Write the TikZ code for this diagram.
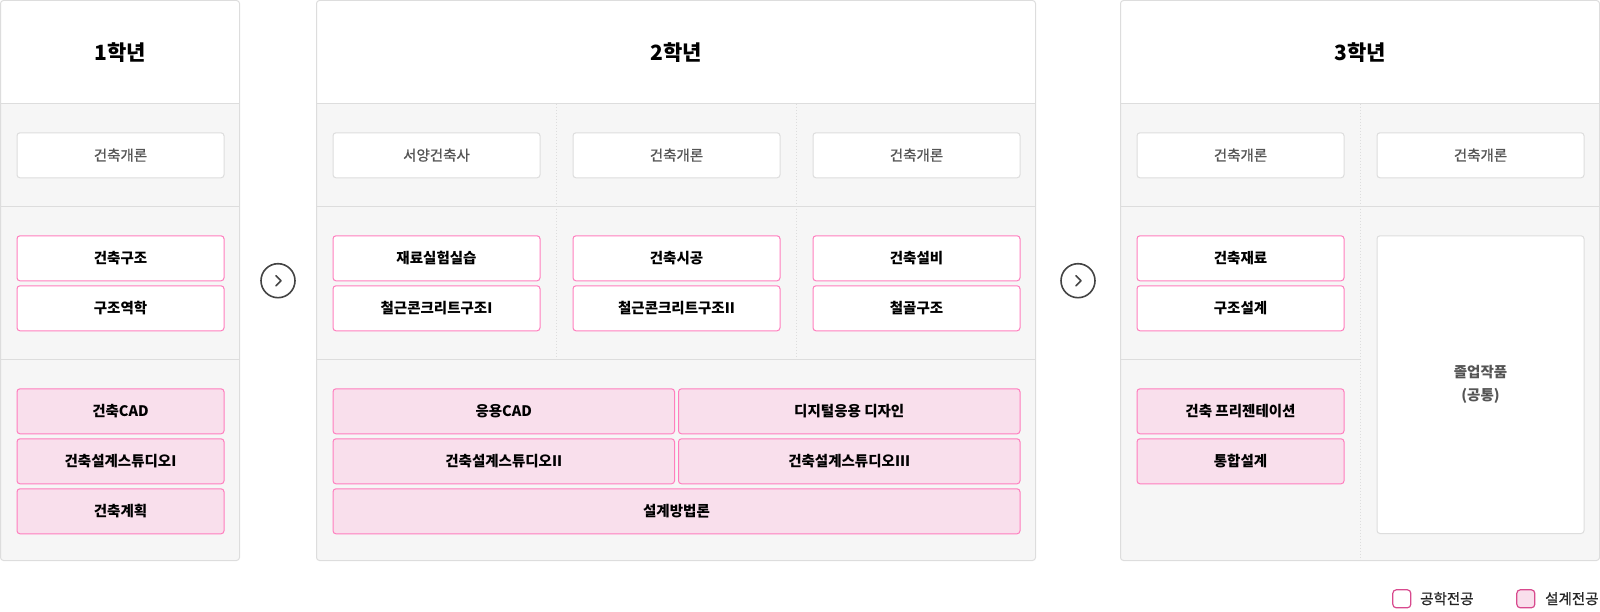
\documentclass[tikz,border=0pt]{standalone}
\usepackage{fontspec}
\setmainfont{Noto Sans CJK KR}
\newfontfamily\medfont[UprightFeatures={FakeBold=0.9}]{Noto Sans CJK KR}
\definecolor{pinkline}{HTML}{FF7EBE}
\definecolor{pinkfill}{HTML}{F9DFEC}
\definecolor{bggray}{HTML}{F6F6F6}
\definecolor{lineg}{HTML}{DDDDDD}
\definecolor{txtgray}{HTML}{555555}
\definecolor{legline}{HTML}{D84A8E}
\definecolor{arrowc}{HTML}{444444}
\tikzset{
  panelbox/.style={draw=lineg, line width=1pt, rounded corners=3pt},
  sepline/.style={draw=lineg, line width=1pt},
  dotline/.style={draw=lineg, line width=1pt, dotted},
  course/.style={anchor=north west, minimum width=207pt, minimum height=45pt, inner sep=0pt,
    rounded corners=3pt, line width=1pt, font=\bfseries\fontsize{14.5}{16}\selectfont,
    text height=11.6pt, text depth=1pt},
  eng/.style={course, draw=pinkline, fill=white, text=black},
  des/.style={course, draw=pinkline, fill=pinkfill, text=black},
  gen/.style={course, draw=lineg, fill=white, text=txtgray, font=\medfont\fontsize{14.5}{16}\selectfont},
  title/.style={font=\bfseries\fontsize{21}{24}\selectfont, text height=16.3pt, text depth=1pt, inner sep=0pt},
  circ/.style={circle, draw=arrowc, line width=1.6pt, minimum size=34pt, inner sep=0pt, fill=white},
  legbox/.style={draw=legline, line width=1.2pt, rounded corners=3.5pt, minimum width=18pt, minimum height=18pt, inner sep=0pt},
  legtext/.style={anchor=west, inner sep=0pt, font=\medfont\fontsize{14.5}{16}\selectfont, text=black!85, text height=11.6pt, text depth=1pt},
}
\begin{document}
\begin{tikzpicture}[x=1pt,y=-1pt]
\useasboundingbox (0,0) rectangle (1600,612);
% ---------- panel backgrounds ----------
\foreach \xa/\xb in {0.5/239.5, 316.5/1035.5, 1120.5/1599.5}{
  \begin{scope}
    \clip[rounded corners=3pt] (\xa,0.5) rectangle (\xb,560.5);
    \fill[white] (\xa,0.5) rectangle (\xb,103.3);
    \fill[bggray] (\xa,103.3) rectangle (\xb,560.5);
  \end{scope}
}
% horizontal separators
\draw[sepline] (0.5,103.3) -- (239.5,103.3);
\draw[sepline] (0.5,207) -- (239.5,207);
\draw[sepline] (0.5,359.5) -- (239.5,359.5);
\draw[sepline] (316.5,103.3) -- (1035.5,103.3);
\draw[sepline] (316.5,207) -- (1035.5,207);
\draw[sepline] (316.5,359.5) -- (1035.5,359.5);
\draw[sepline] (1120.5,103.3) -- (1599.5,103.3);
\draw[sepline] (1120.5,207) -- (1599.5,207);
\draw[sepline] (1120.5,359.5) -- (1360,359.5);
% dotted column dividers
\draw[dotline] (556.3,103.8) -- (556.3,359);
\draw[dotline] (796.3,103.8) -- (796.3,359);
\draw[dotline] (1360,103.8) -- (1360,560);
% panel borders
\draw[panelbox] (0.5,0.5) rectangle (239.5,560.5);
\draw[panelbox] (316.5,0.5) rectangle (1035.5,560.5);
\draw[panelbox] (1120.5,0.5) rectangle (1599.5,560.5);
% ---------- titles ----------
\node[title] (t1) at (120,53) {1학년};
\node[title] (t2) at (676,53) {2학년};
\node[title] (t3) at (1360,53) {3학년};
% ---------- year 1 ----------
\node[gen] (a1) at (16.5,132.3) {건축개론};
\node[eng] (a2) at (16.5,235.3) {건축구조};
\node[eng] (a3) at (16.5,285.3) {구조역학};
\node[des] (a4) at (16.5,388.3) {건축CAD};
\node[des] (a5) at (16.5,438.3) {건축설계스튜디오I};
\node[des] (a6) at (16.5,488.3) {건축계획};
% ---------- year 2 ----------
\node[gen] (b1) at (332.5,132.3) {서양건축사};
\node[gen] (b2) at (572.5,132.3) {건축개론};
\node[gen] (b3) at (812.5,132.3) {건축개론};
\node[eng] (b4) at (332.5,235.3) {재료실험실습};
\node[eng] (b5) at (572.5,235.3) {건축시공};
\node[eng] (b6) at (812.5,235.3) {건축설비};
\node[eng] (b7) at (332.5,285.3) {철근콘크리트구조I};
\node[eng] (b8) at (572.5,285.3) {철근콘크리트구조II};
\node[eng] (b9) at (812.5,285.3) {철골구조};
\node[des, minimum width=341.5pt] (b10) at (332.5,388.3) {응용CAD};
\node[des, minimum width=341.5pt] (b11) at (678,388.3) {디지털응용 디자인};
\node[des, minimum width=341.5pt] (b12) at (332.5,438.3) {건축설계스튜디오II};
\node[des, minimum width=341.5pt] (b13) at (678,438.3) {건축설계스튜디오III};
\node[des, minimum width=687pt] (b14) at (332.5,488.3) {설계방법론};
% ---------- year 3 ----------
\node[gen] (c1) at (1136.5,132.3) {건축개론};
\node[gen] (c2) at (1376.5,132.3) {건축개론};
\node[eng] (c3) at (1136.5,235.3) {건축재료};
\node[eng] (c4) at (1136.5,285.3) {구조설계};
\node[des] (c5) at (1136.5,388.3) {건축 프리젠테이션};
\node[des] (c6) at (1136.5,438.3) {통합설계};
\node[gen, minimum height=297.7pt, align=center, font=\bfseries\fontsize{14.5}{23}\selectfont, text height=, text depth=] (c7) at (1376.5,235.3) {졸업작품\\(공통)};
% ---------- arrows ----------
\node[circ] (arr1) at (278,280.7) {};
\node[circ] (arr2) at (1078,280.7) {};
\foreach \n in {arr1,arr2}{
  \draw[arrowc, line width=1.6pt, line cap=round, line join=round]
    ([shift={(-2,-5)}]\n.center) -- ([shift={(3,0)}]\n.center) -- ([shift={(-2,5)}]\n.center);
}
% ---------- legend ----------
\node[legbox, fill=white] (lg1) at (1401.8,598.8) {};
\node[legtext] (lt1) at (1420,598.8) {공학전공};
\node[legbox, fill=pinkfill] (lg2) at (1525.8,598.8) {};
\node[legtext] (lt2) at (1545,598.8) {설계전공};
\end{tikzpicture}
\end{document}
